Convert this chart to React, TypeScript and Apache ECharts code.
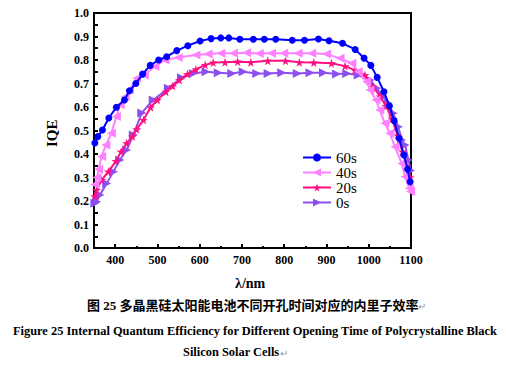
import React, { useEffect, useRef } from "react";
import * as echarts from "echarts";

const seriesNames = ["60s", "40s", "20s", "0s"];
const seriesColors = ["#0000ff", "#ff80ff", "#ff1080", "#8c50f0"];

const iqe60: number[][] = [
  [352, 0.447], [359, 0.474], [370, 0.502], [385, 0.553], [403, 0.599], [422, 0.63], [434, 0.669],
  [449, 0.70], [465, 0.74], [483, 0.777], [503, 0.80], [522, 0.814], [546, 0.84], [572, 0.861],
  [601, 0.881], [627, 0.891], [650, 0.894], [669, 0.894], [695, 0.888], [727, 0.888], [753, 0.888],
  [780, 0.888], [819, 0.884], [848, 0.884], [881, 0.889], [906, 0.882], [938, 0.871], [968, 0.845],
  [989, 0.808], [1005, 0.777], [1020, 0.726], [1036, 0.665], [1049, 0.604], [1060, 0.542],
  [1072, 0.467], [1083, 0.396], [1092, 0.335], [1098, 0.282],
];
const iqe40: number[][] = [
  [352, 0.27], [357, 0.30], [361, 0.335], [368, 0.389], [378, 0.438], [391, 0.488], [403, 0.56],
  [412, 0.61], [424, 0.644], [434, 0.672], [451, 0.722], [469, 0.736], [494, 0.772], [518, 0.80],
  [549, 0.811], [591, 0.821], [620, 0.826], [650, 0.829], [680, 0.829], [711, 0.831], [741, 0.828],
  [770, 0.829], [799, 0.829], [833, 0.829], [865, 0.829], [900, 0.826], [932, 0.807], [960, 0.786],
  [975, 0.75], [995, 0.708], [1003, 0.672], [1017, 0.63], [1026, 0.587], [1038, 0.531],
  [1050, 0.488], [1062, 0.431], [1078, 0.36], [1086, 0.303], [1096, 0.254], [1099, 0.24],
];
const iqe20: number[][] = [
  [352, 0.22], [356, 0.247], [368, 0.289], [384, 0.325], [402, 0.37], [414, 0.41], [427, 0.446],
  [441, 0.474], [451, 0.505], [467, 0.545], [484, 0.599], [500, 0.63], [520, 0.665], [536, 0.689],
  [552, 0.715], [571, 0.74], [591, 0.76], [613, 0.779], [632, 0.789], [660, 0.79], [690, 0.793],
  [721, 0.79], [761, 0.797], [803, 0.797], [836, 0.79], [870, 0.789], [912, 0.786], [944, 0.774],
  [967, 0.757], [991, 0.736], [1011, 0.686], [1027, 0.644], [1041, 0.604], [1055, 0.55],
  [1068, 0.48], [1080, 0.41], [1090, 0.35], [1098, 0.30],
];
const iqe0: number[][] = [
  [352, 0.19], [356, 0.197], [364, 0.226], [380, 0.275], [396, 0.325], [411, 0.374], [427, 0.417],
  [443, 0.481], [463, 0.575], [490, 0.63], [526, 0.68], [557, 0.725], [585, 0.743], [615, 0.75],
  [644, 0.746], [676, 0.743], [703, 0.75], [735, 0.743], [762, 0.743], [794, 0.746], [831, 0.743],
  [861, 0.746], [893, 0.746], [924, 0.74], [948, 0.743], [975, 0.736], [1003, 0.715], [1019, 0.68],
  [1033, 0.644], [1046, 0.616], [1058, 0.573], [1070, 0.516], [1078, 0.46], [1086, 0.438],
  [1094, 0.374], [1099, 0.33],
];
const seriesData = [iqe60, iqe40, iqe20, iqe0];

const xMajorTicks = [400, 500, 600, 700, 800, 900, 1000, 1100];
const xMinorTicks = [450, 550, 650, 750, 850, 950, 1050];

const starPath =
  "path://M50,0 L61,35 L98,35 L68,57 L79,91 L50,70 L21,91 L32,57 L2,35 L39,35 Z";
const symbols = ["circle", "triangle", starPath, "triangle"];
const symbolRotates = [0, 90, 0, -90];
const symbolSizes = [7, 9, 9, 9];

const captionCn = "图 25 多晶黑硅太阳能电池不同开孔时间对应的内里子效率";
const captionEn1 = "Figure 25 Internal Quantum Efficiency for Different Opening Time of Polycrystalline Black";
const captionEn2 = "Silicon Solar Cells";

const serif = "'Liberation Serif', 'Times New Roman', serif";

export default function App() {
  const ref = useRef<HTMLDivElement>(null);
  useEffect(() => {
    if (!ref.current) return;
    const chart = echarts.init(ref.current, null, { renderer: "svg" });
    chart.setOption({
      animation: false,
      backgroundColor: "#ffffff",
      grid: {
        left: 94, top: 13, right: 95, bottom: 117,
        show: true, borderColor: "#000", borderWidth: 2, backgroundColor: "transparent",
      },
      legend: {
        left: 297, top: 145, orient: "vertical",
        itemWidth: 28, itemHeight: 10, itemGap: 0,
        data: seriesNames,
        textStyle: { fontFamily: serif, fontSize: 15, lineHeight: 15, color: "#000" },
      },
      xAxis: [
        {
          type: "value", min: 350, max: 1100, interval: 50,
          axisLine: { lineStyle: { color: "#000", width: 2 } },
          axisTick: { inside: true, length: 4, lineStyle: { width: 2, color: "#000" }, customValues: xMajorTicks },
          axisLabel: {
            customValues: xMajorTicks, margin: 6, formatter: (v: number) => String(v),
            fontFamily: serif, fontWeight: "bold", fontSize: 12, color: "#000",
          },
          splitLine: { show: false },
        },
        {
          type: "value", min: 350, max: 1100, interval: 50, position: "bottom",
          axisLine: { show: false },
          axisTick: { inside: true, length: 2, lineStyle: { width: 2, color: "#000" }, customValues: xMinorTicks },
          axisLabel: { show: false },
          splitLine: { show: false },
        },
      ],
      yAxis: {
        type: "value", min: 0, max: 1, interval: 0.1,
        axisLine: { show: true, lineStyle: { color: "#000", width: 2 } },
        axisTick: { show: true, inside: true, length: 4, lineStyle: { width: 2, color: "#000" } },
        minorTick: { show: true, splitNumber: 2, length: 4, lineStyle: { width: 2, color: "#000" } },
        axisLabel: {
          margin: 5, formatter: (v: number) => v.toFixed(1),
          fontFamily: serif, fontWeight: "bold", fontSize: 12, color: "#000",
        },
        splitLine: { show: false },
      },
      series: seriesNames.map((name, i) => ({
        name, type: "line", data: seriesData[i],
        symbol: symbols[i], symbolSize: symbolSizes[i], symbolRotate: symbolRotates[i],
        showAllSymbol: true,
        itemStyle: { color: seriesColors[i] },
        lineStyle: { color: seriesColors[i], width: 2 },
        z: 10 - i,
      })).reverse(),
      graphic: [
        { type: "text", left: 235, top: 276, style: { text: "λ/nm", font: `bold 14px ${serif}`, fill: "#000" } },
        {
          type: "text", x: 44, y: 147, rotation: Math.PI / 2,
          style: { text: "IQE", font: `bold 15px ${serif}`, fill: "#000" },
        },
        {
          type: "text", left: 87, top: 299,
          style: { text: captionCn, font: `bold 13px ${serif}, 'Noto Sans CJK SC'`, fill: "#000" },
        },
        { type: "text", left: 418, top: 301, style: { text: "↵", font: `10px ${serif}`, fill: "#999" } },
        {
          type: "text", left: 13, top: 325,
          style: { text: captionEn1, font: `bold 12.4px ${serif}`, fill: "#000" },
        },
        {
          type: "text", left: 183, top: 346,
          style: { text: captionEn2, font: `bold 12.4px ${serif}`, fill: "#000" },
        },
        { type: "text", left: 280, top: 348, style: { text: "↵", font: `10px ${serif}`, fill: "#999" } },
      ],
    });
    return () => chart.dispose();
  }, []);
  return (
    <div
      ref={ref}
      style={{ position: "absolute", left: 0, top: 0, width: 506, height: 365, background: "#fff" }}
    />
  );
}
